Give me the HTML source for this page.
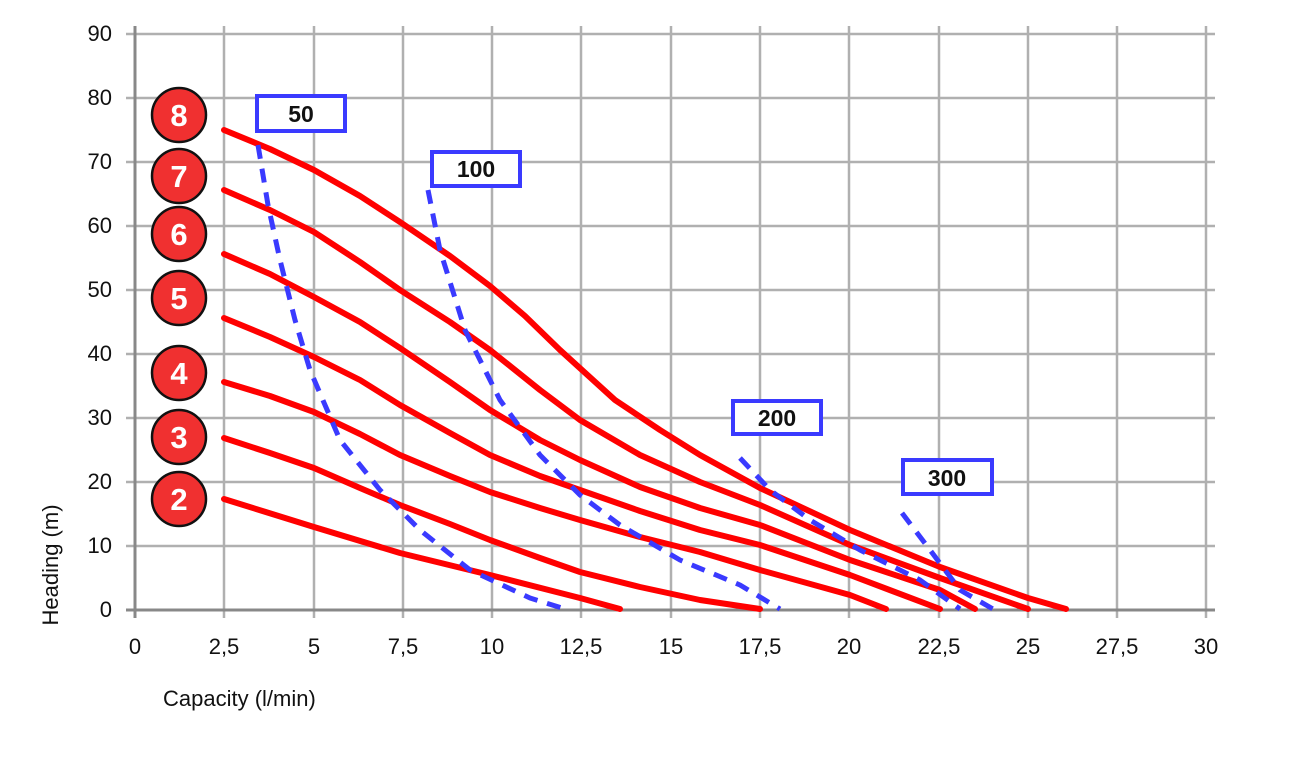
<!DOCTYPE html>
<html><head><meta charset="utf-8"><style>
body{margin:0;background:#fff;}
svg{display:block;font-family:"Liberation Sans","DejaVu Sans",sans-serif;}
</style></head><body>
<svg width="1294" height="774" viewBox="0 0 1294 774" xmlns="http://www.w3.org/2000/svg">
<g stroke="#b0b0b0" stroke-width="2.5">
<line x1="224" y1="26" x2="224" y2="618"/><line x1="314" y1="26" x2="314" y2="618"/><line x1="403" y1="26" x2="403" y2="618"/><line x1="492" y1="26" x2="492" y2="618"/><line x1="581" y1="26" x2="581" y2="618"/><line x1="671" y1="26" x2="671" y2="618"/><line x1="760" y1="26" x2="760" y2="618"/><line x1="849" y1="26" x2="849" y2="618"/><line x1="939" y1="26" x2="939" y2="618"/><line x1="1028" y1="26" x2="1028" y2="618"/><line x1="1117" y1="26" x2="1117" y2="618"/><line x1="1206" y1="26" x2="1206" y2="618"/>
<line x1="126" y1="34" x2="1215" y2="34"/><line x1="126" y1="98" x2="1215" y2="98"/><line x1="126" y1="162" x2="1215" y2="162"/><line x1="126" y1="226" x2="1215" y2="226"/><line x1="126" y1="290" x2="1215" y2="290"/><line x1="126" y1="354" x2="1215" y2="354"/><line x1="126" y1="418" x2="1215" y2="418"/><line x1="126" y1="482" x2="1215" y2="482"/><line x1="126" y1="546" x2="1215" y2="546"/>
</g>
<g stroke="#888" stroke-width="3"><line x1="135" y1="26" x2="135" y2="618"/><line x1="126" y1="610" x2="1215" y2="610"/></g>
<g font-size="22" fill="#111" text-anchor="end">
<text x="112" y="41">90</text><text x="112" y="105">80</text><text x="112" y="169">70</text><text x="112" y="233">60</text><text x="112" y="297">50</text><text x="112" y="361">40</text><text x="112" y="425">30</text><text x="112" y="489">20</text><text x="112" y="553">10</text><text x="112" y="617">0</text>
</g>
<g font-size="22" fill="#111" text-anchor="middle">
<text x="135" y="654">0</text><text x="224" y="654">2,5</text><text x="314" y="654">5</text><text x="403" y="654">7,5</text><text x="492" y="654">10</text><text x="581" y="654">12,5</text><text x="671" y="654">15</text><text x="760" y="654">17,5</text><text x="849" y="654">20</text><text x="939" y="654">22,5</text><text x="1028" y="654">25</text><text x="1117" y="654">27,5</text><text x="1206" y="654">30</text>
</g>
<text x="163" y="706" font-size="22" fill="#111">Capacity (l/min)</text>
<text transform="translate(58,565) rotate(-90)" text-anchor="middle" font-size="22" fill="#111">Heading (m)</text>
<g fill="none" stroke="#ff0000" stroke-width="6" stroke-linejoin="round" stroke-linecap="round">
<polyline points="224,130 270,149 314,170 360,196 400,222 450,256 490,286 525,316 560,350 615,400 660,430 700,455 760,488 850,530 940,567 1028,598 1066,609"/>
<polyline points="224,190 270,210 314,232 360,262 400,290 450,322 490,350 540,390 580,420 640,455 700,482 760,505 850,545 940,578 1028,609"/>
<polyline points="224,254 270,274 314,297 360,322 400,348 450,382 490,410 540,440 580,460 640,487 700,508 760,525 850,560 940,590 975,609"/>
<polyline points="224,318 270,337 314,357 360,380 400,405 450,433 490,455 540,476 580,490 640,511 700,530 760,545 850,575 940,609"/>
<polyline points="224,382 270,396 314,412 360,434 400,455 450,476 490,492 540,508 580,520 640,537 700,552 760,570 850,595 886,609"/>
<polyline points="224,438 270,453 314,468 360,488 400,505 450,524 490,540 540,558 580,572 640,587 700,600 760,609"/>
<polyline points="224,499 314,527 400,553 490,575 580,598 620,609"/>
</g>
<g fill="none" stroke="#3a3aff" stroke-width="5" stroke-dasharray="14,10" stroke-linejoin="round">
<polyline points="258,145 268,205 280,260 295,320 310,370 340,440 380,490 420,530 470,570 530,598 565,609"/>
<polyline points="428,190 440,250 465,330 500,400 540,455 580,495 620,525 680,560 740,585 780,609"/>
<polyline points="740,458 770,490 810,520 860,550 920,580 960,609"/>
<polyline points="902,513 930,550 960,590 993,609"/>
</g>
<g fill="#fff" stroke="#3a3aff" stroke-width="4">
<rect x="257" y="96" width="88" height="35"/><rect x="432" y="152" width="88" height="34"/><rect x="733" y="401" width="88" height="33"/><rect x="903" y="460" width="89" height="34"/>
</g>
<g font-size="23" font-weight="bold" fill="#111" text-anchor="middle">
<text x="301" y="122">50</text><text x="476" y="177">100</text><text x="777" y="426">200</text><text x="947" y="486">300</text>
</g>
<g fill="#f03030" stroke="#111" stroke-width="2.5">
<circle cx="179" cy="115" r="27"/><circle cx="179" cy="176" r="27"/><circle cx="179" cy="234" r="27"/><circle cx="179" cy="298" r="27"/><circle cx="179" cy="373" r="27"/><circle cx="179" cy="437" r="27"/><circle cx="179" cy="499" r="27"/>
</g>
<g font-size="31" font-weight="bold" fill="#fff" text-anchor="middle">
<text x="179" y="126">8</text><text x="179" y="187">7</text><text x="179" y="245">6</text><text x="179" y="309">5</text><text x="179" y="384">4</text><text x="179" y="448">3</text><text x="179" y="510">2</text>
</g>
</svg>
</body></html>
